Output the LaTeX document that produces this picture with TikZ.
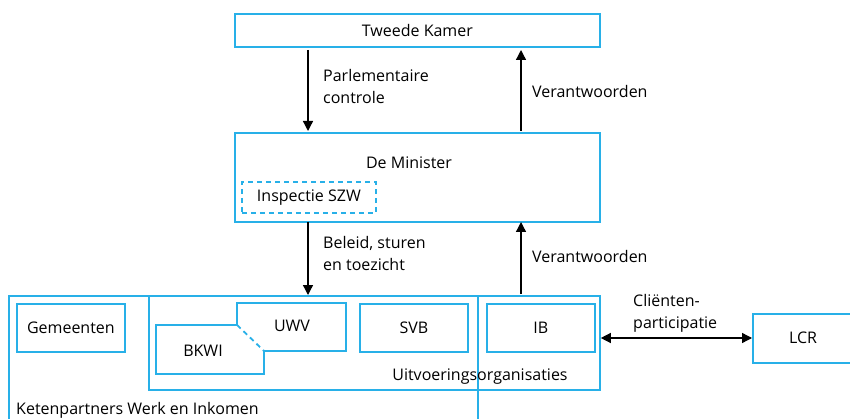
\documentclass[tikz,border=0pt]{standalone}
\usepackage{fontspec}
\setmainfont{Open Sans}
\usetikzlibrary{arrows.meta}
\definecolor{boxblue}{RGB}{40,176,232}
\tikzset{
  bx/.style={draw=boxblue,line width=1.8pt,inner sep=0pt,anchor=north west},
  lbl/.style={font=\fontsize{16}{22}\selectfont,inner sep=0pt,text=black},
  arr/.style={line width=1.3pt,-{Triangle[length=10pt,width=10pt]}},
  darr/.style={line width=1.3pt,{Triangle[length=10pt,width=10pt]}-{Triangle[length=10pt,width=10pt]}}
}
\begin{document}
\begin{tikzpicture}[x=1pt,y=-1pt]
\useasboundingbox (0,0) rectangle (850,419);
\clip (0,0) rectangle (850,419);
% boxes
\node[bx,minimum width=365pt,minimum height=33pt] (tk) at (234,13) {};
\node[lbl] (tkt) at (tk.center) {Tweede Kamer};
\node[bx,minimum width=365pt,minimum height=89pt] (min) at (234,132) {};
\node[lbl] (mint) at (409,163) {De Minister};
\node[bx,dash pattern=on 5pt off 4pt,minimum width=134pt,minimum height=31pt] (insp) at (241,181) {};
\node[lbl] (inspt) at (insp.center) {Inspectie SZW};
% outer boxes
\node[bx,minimum width=469pt,minimum height=140pt] (keten) at (8,295) {};
\node[lbl,anchor=west] (ketent) at (16,410) {Ketenpartners Werk en Inkomen};
\node[bx,minimum width=451pt,minimum height=94pt] (uitv) at (148,295) {};
\node[lbl] (uitvt) at (480,377) {Uitvoeringsorganisaties};
\node[bx,minimum width=108pt,minimum height=48pt] (gem) at (16,303) {};
\node[lbl] (gemt) at (gem.center) {Gemeenten};
\node[bx,minimum width=108pt,minimum height=48pt] (svb) at (359,303) {};
\node[lbl] (svbt) at (svb.center) {SVB};
\node[bx,minimum width=108pt,minimum height=48pt] (ib) at (486,303) {};
\node[lbl] (ibt) at (ib.center) {IB};
\node[bx,minimum width=98pt,minimum height=49pt] (lcr) at (752,313) {};
\node[lbl] (lcrt) at (803,338) {LCR};
% UWV / BKWI
\coordinate (c1) at (237,325);
\coordinate (c2) at (264,351);
\draw[boxblue,line width=1.8pt] (c1) -- (237,303) -- (346,303) -- (346,351) -- (c2);
\draw[boxblue,line width=1.8pt] (c1) -- (156,325) -- (156,374) -- (264,374) -- (c2);
\draw[boxblue,line width=1.8pt,dash pattern=on 5pt off 4pt] (c1) -- (c2);
\node[lbl] (uwv) at (292,326) {UWV};
\node[lbl] (bkwi) at (203,351) {BKWI};
% arrows
\draw[arr] (308,50) -- (308,131);
\draw[arr] (521,131) -- (521,50);
\draw[arr] (308,222) -- (308,295);
\draw[arr] (521,294) -- (521,222);
\draw[darr] (uitv.east |- 0,338) -- (lcr.west |- 0,338);
% labels
\node[lbl,anchor=west,align=left] (l1) at (323,87) {Parlementaire\\controle};
\node[lbl,anchor=west] (l2) at (532,92) {Verantwoorden};
\node[lbl,anchor=west,align=left] (l3) at (323,254) {Beleid, sturen\\en toezicht};
\node[lbl,anchor=west] (l4) at (532,257) {Verantwoorden};
\node[lbl,anchor=west,align=left] (l5) at (633,313) {Cliënten-\\participatie};
\end{tikzpicture}
\end{document}
